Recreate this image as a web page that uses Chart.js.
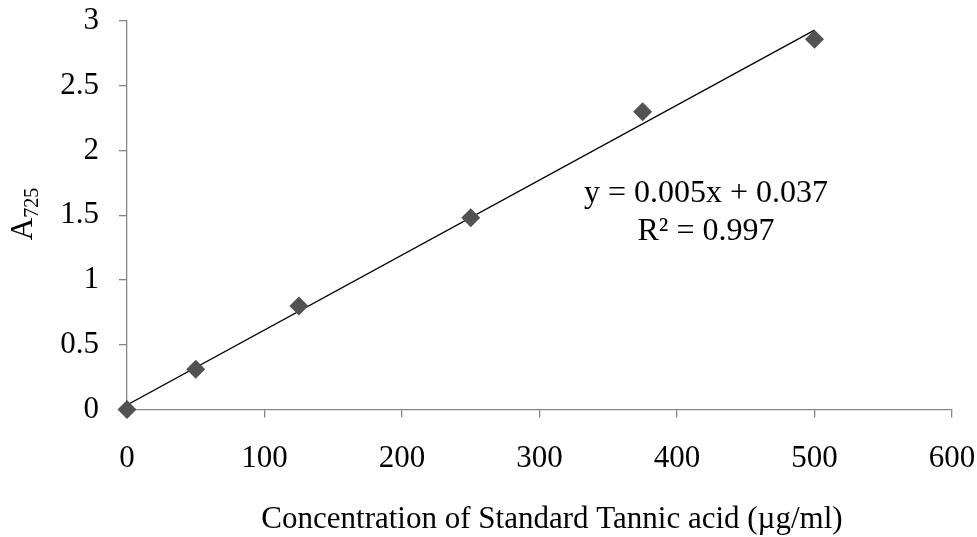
<!DOCTYPE html>
<html><head><meta charset="utf-8">
<script src="https://cdn.jsdelivr.net/npm/chart.js@4/dist/chart.umd.min.js"></script>
<style>html,body{margin:0;padding:0;background:#fff}#wrap{width:977px;height:537px}</style>
</head><body><div id="wrap"><canvas id="c" width="977" height="537"></canvas></div>
<script>
const concentrations = [0, 50, 125, 250, 375, 500];
const absorbance = [0, 0.31, 0.80, 1.48, 2.30, 2.86];
const trendX = [0, 500];
const trendY = [0.035, 2.93];
const xTicks = [0, 100, 200, 300, 400, 500, 600];
const yTicks = [0, 0.5, 1, 1.5, 2, 2.5, 3];
const xTitle = 'Concentration of Standard Tannic acid (\u00b5g/ml)';
const yTitleMain = 'A';
const yTitleSub = '725';
const equationText = 'y = 0.005x + 0.037';
const r2Text = 'R\u00b2 = 0.997';

const FONT = '"Liberation Serif", "Times New Roman", serif';
const axisColor = '#868686';

const textPlugin = {
  id: 'texts',
  afterDraw(chart) {
    const ctx = chart.ctx;
    ctx.save();
    ctx.fillStyle = '#000';
    ctx.textBaseline = 'alphabetic';
    ctx.textAlign = 'center';
    ctx.font = '31px ' + FONT;
    ctx.fillText(xTitle, 552, 528);
    ctx.font = '32px ' + FONT;
    ctx.fillText(equationText, 706, 202);
    ctx.fillText(r2Text, 706, 240);
    // y title rotated with subscript
    ctx.translate(32, 214);
    ctx.rotate(-Math.PI / 2);
    ctx.textAlign = 'left';
    ctx.font = '31px ' + FONT;
    const wA = ctx.measureText(yTitleMain).width;
    ctx.font = '20px ' + FONT;
    const wS = ctx.measureText(yTitleSub).width;
    const start = -(wA + wS) / 2;
    ctx.font = '31px ' + FONT;
    ctx.fillText(yTitleMain, start, 0);
    ctx.font = '20px ' + FONT;
    ctx.fillText(yTitleSub, start + wA, 6);
    ctx.restore();
  }
};

new Chart(document.getElementById('c'), {
  type: 'scatter',
  data: {
    datasets: [
      {
        type: 'line',
        data: trendX.map((x, i) => ({x, y: trendY[i]})),
        borderColor: '#000',
        borderWidth: 1.3,
        pointRadius: 0,
        fill: false,
        order: 2
      },
      {
        data: concentrations.map((x, i) => ({x, y: absorbance[i]})),
        pointStyle: 'rectRot',
        pointRadius: 9.5,
        backgroundColor: '#525252',
        borderColor: '#525252',
        borderWidth: 0,
        clip: false,
        order: 1
      }
    ]
  },
  plugins: [textPlugin],
  options: {
    responsive: false,
    animation: false,
    layout: {padding: {left: 0, right: 25, top: 21, bottom: 0}},
    plugins: {legend: {display: false}, tooltip: {enabled: false}},
    scales: {
      x: {
        type: 'linear', min: 0, max: 600,
        afterFit(s) { s.height = 537 - 409.5; s.paddingLeft = 0; s.paddingRight = 0; },
        afterBuildTicks(s) { s.ticks = xTicks.map(v => ({value: v})); },
        grid: {display: true, drawOnChartArea: false, drawTicks: true, tickLength: 8, color: axisColor, lineWidth: 1.3},
        border: {display: true, color: axisColor, width: 1.3},
        ticks: {color: '#000', font: {family: FONT, size: 31}, padding: 23, maxRotation: 0,
                callback: v => String(v)}
      },
      y: {
        type: 'linear', min: 0, max: 3,
        afterFit(s) { s.width = 127; s.paddingTop = 0; s.paddingBottom = 0; },
        afterBuildTicks(s) { s.ticks = yTicks.map(v => ({value: v})); },
        grid: {display: true, drawOnChartArea: false, drawTicks: true, tickLength: 8, color: axisColor, lineWidth: 1.3},
        border: {display: true, color: axisColor, width: 1.3},
        ticks: {color: '#000', font: {family: FONT, size: 31}, padding: 20,
                callback: v => String(v)}
      }
    }
  }
});
</script></body></html>
